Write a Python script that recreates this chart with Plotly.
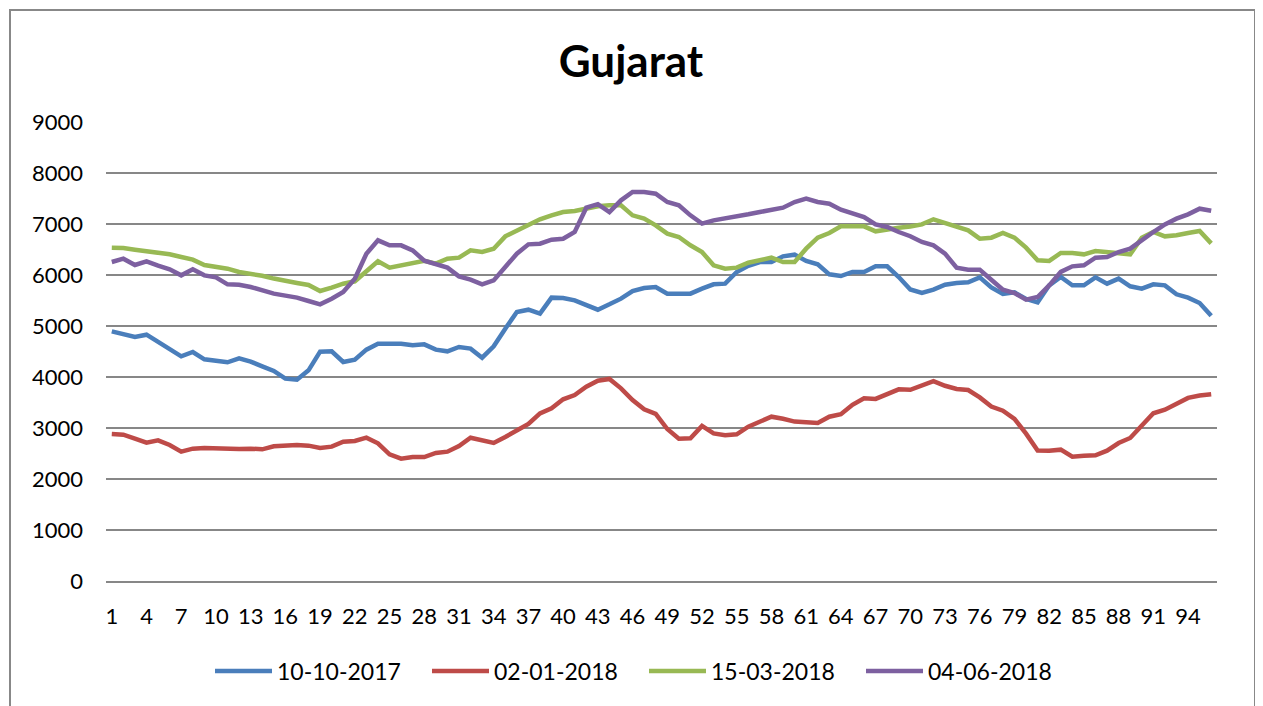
import plotly.graph_objects as go

x_vals = list(range(1, 97))

series_names = ["10-10-2017", "02-01-2018", "15-03-2018", "04-06-2018"]

s_10_10_2017 = [4895, 4843, 4784, 4830, 4686, 4536, 4405, 4490, 4346, 4320, 4288, 4366, 4301, 4210, 4120, 3967,
                3948, 4131, 4497, 4503, 4294, 4340, 4536, 4654, 4654, 4654, 4621, 4640, 4536, 4503, 4588, 4556,
                4379, 4601, 4948, 5275, 5320, 5242, 5556, 5549, 5503, 5405, 5320, 5425, 5536, 5686, 5745, 5765,
                5634, 5634, 5634, 5732, 5817, 5830, 6059, 6180, 6255, 6255, 6366, 6399, 6275, 6209, 6013, 5980,
                6059, 6059, 6170, 6170, 5961, 5715, 5647, 5712, 5810, 5843, 5856, 5954, 5758, 5627, 5660, 5529,
                5464, 5797, 5960, 5797, 5797, 5954, 5830, 5928, 5778, 5732, 5817, 5797, 5621, 5556, 5450, 5200]

s_02_01_2018 = [2882, 2869, 2791, 2712, 2758, 2667, 2536, 2595, 2608, 2601, 2582, 2588, 2595, 2582, 2641, 2654,
                2667, 2654, 2608, 2634, 2732, 2745, 2810, 2699, 2484, 2399, 2431, 2431, 2510, 2536, 2647, 2810,
                2758, 2706, 2824, 2948, 3078, 3288, 3386, 3562, 3647, 3810, 3928, 3961, 3778, 3549, 3366, 3275,
                2980, 2790, 2800, 3040, 2895, 2860, 2875, 3026, 3135, 3222, 3180, 3125, 3115, 3100, 3222, 3270,
                3455, 3582, 3570, 3665, 3758, 3750, 3830, 3920, 3828, 3765, 3745, 3600, 3420, 3340, 3180, 2890,
                2560, 2556, 2575, 2438, 2458, 2464, 2556, 2705, 2805, 3040, 3288, 3360, 3475, 3590, 3637, 3660]

s_15_03_2018 = [6536, 6530, 6497, 6471, 6431, 6405, 6353, 6301, 6196, 6170, 6124, 6059, 6026, 5985, 5930, 5880,
                5843, 5804, 5686, 5752, 5830, 5876, 6059, 6268, 6144, 6190, 6255, 6280, 6222, 6320, 6340, 6484,
                6451, 6516, 6758, 6876, 6974, 7092, 7170, 7235, 7255, 7310, 7346, 7366, 7366, 7170, 7105, 6974,
                6810, 6745, 6582, 6451, 6190, 6124, 6144, 6240, 6288, 6340, 6255, 6255, 6516, 6732, 6824, 6954,
                6954, 6954, 6856, 6902, 6928, 6950, 6993, 7092, 7020, 6928, 6876, 6712, 6732, 6824, 6732, 6536,
                6288, 6275, 6431, 6431, 6405, 6471, 6451, 6418, 6405, 6732, 6843, 6758, 6778, 6824, 6863, 6620]

s_04_06_2018 = [6255, 6320, 6196, 6268, 6183, 6111, 5993, 6111, 5993, 5954, 5817, 5810, 5765, 5700, 5634, 5595,
                5556, 5490, 5425, 5536, 5667, 5928, 6418, 6680, 6582, 6582, 6484, 6280, 6209, 6144, 5974, 5908,
                5817, 5895, 6157, 6418, 6601, 6614, 6693, 6712, 6843, 7320, 7390, 7235, 7464, 7627, 7627, 7595,
                7431, 7366, 7170, 7007, 7072, 7105, 7137, 7190, 7235, 7268, 7320, 7431, 7497, 7431, 7399, 7281,
                7216, 7137, 6993, 6941, 6843, 6760, 6647, 6582, 6418, 6144, 6105, 6105, 5908, 5712, 5647, 5516,
                5569, 5797, 6060, 6170, 6190, 6340, 6353, 6451, 6516, 6693, 6843, 6993, 7105, 7190, 7300, 7260]

x_tick_vals = list(range(1, 97, 3))
y_tick_vals = list(range(0, 10000, 1000))

colors = ["#4A7EBB", "#BE4B48", "#98B954", "#7D60A0"]
all_series = [s_10_10_2017, s_02_01_2018, s_15_03_2018, s_04_06_2018]

FONT = "Lato"

fig = go.Figure()
for name, ys, c in zip(series_names, all_series, colors):
    fig.add_trace(go.Scatter(x=x_vals, y=ys, mode="lines", name=name,
                             line=dict(color=c, width=4.5, shape="linear"),
                             hoverinfo="x+y+name"))

# page body has an 8px margin, so the figure is laid out 8px smaller
OFF = 8
W, H = 1263 - OFF, 706 - OFF
L, T = 106 - OFF, 122 - OFF
PW, PH = 1111, 459
R = W - L - PW
B = H - T - PH

fig.update_layout(
    width=W, height=H,
    margin=dict(l=L, r=R, t=T, b=B, autoexpand=False),
    paper_bgcolor="white", plot_bgcolor="white",
    font=dict(family=FONT, color="black", size=22),
    title=dict(text="<b>Gujarat</b>", x=(631 - OFF) / W, xanchor="center", xref="container",
               y=1 - (62 - OFF) / H, yanchor="middle", yref="container",
               font=dict(family=FONT, size=44, color="black")),
    showlegend=True,
    legend=dict(orientation="h", xref="container", x=(210 - OFF) / W, xanchor="left",
                yref="container", y=1 - (671 - OFF) / H, yanchor="middle",
                font=dict(family=FONT, size=23, color="black"),
                itemwidth=57, entrywidth=145, entrywidthmode="pixels",
                tracegroupgap=0, traceorder="normal"),
    xaxis=dict(range=[0.5, 96.5], tickmode="array", tickvals=x_tick_vals,
               ticktext=[str(v) for v in x_tick_vals],
               showgrid=False, zeroline=False, showline=True, linecolor="#878787", linewidth=1.5,
               ticks="", tickfont=dict(family=FONT, size=22), ticklabelstandoff=15),
    yaxis=dict(range=[0, 9000], tickmode="array", tickvals=y_tick_vals,
               ticktext=[str(v) for v in y_tick_vals],
               showgrid=True, gridcolor="#878787", gridwidth=1.5, zeroline=False, showline=False,
               ticks="", tickfont=dict(family=FONT, size=22), ticklabelstandoff=22),
)

def px_to_paper_x(px):
    return (px - OFF - L) / PW

def py_to_paper_y(py):
    return 1 - (py - OFF - T) / PH

fig.add_shape(type="rect", xref="paper", yref="paper",
              x0=px_to_paper_x(10), x1=px_to_paper_x(1255),
              y0=py_to_paper_y(730), y1=py_to_paper_y(10),
              line=dict(color="#888888", width=2), fillcolor="rgba(0,0,0,0)", layer="below")

fig.write_html("out.html")
